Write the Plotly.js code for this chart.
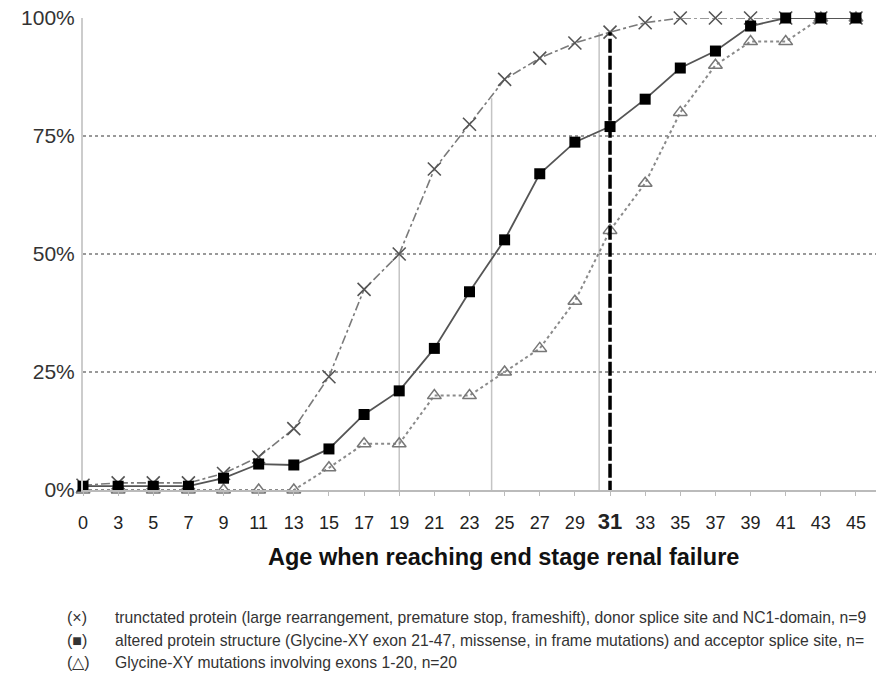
<!DOCTYPE html>
<html>
<head>
<meta charset="utf-8">
<script src="https://cdn.plot.ly/plotly-3.0.1.min.js"></script>
<style>html,body{margin:0;padding:0;background:#fff;}#chart{width:876px;height:677px;}</style>
</head>
<body>
<div id="chart"></div>
<script>
// Ages (category axis)
const ages = ['0','3','5','7','9','11','13','15','17','19','21','23','25','27','29','31','33','35','37','39','41','43','45'];
// Cumulative % reaching ESRF
const truncated = [1,1.5,1.5,1.5,3.5,7,13,24,42.5,50,68,77.5,87,91.5,94.7,97,99,100,100,100,100,100,100];
const altered   = [0.8,0.8,0.8,0.8,2.5,5.5,5.3,8.7,16,21,30,42,53,67,73.7,77,82.8,89.4,93,98.3,100,100,100];
const glycine   = [0,0,0,0,0,0,0,4.7,9.8,9.8,20,20,25,30,40,55,65,80,90,95,95,100,100];
// Tick labels
const yTickVals = [0,25,50,75,100];
const yTickText = ['0%','25%','50%','75%','100%'];
const xTickText = ages.map(a => a === '31' ? '<span style="font-size:22px"><b>31</b></span>' : a);
const xTitle = 'Age when reaching end stage renal failure';
// Reference lines (category index position, top %)
const refLineX = [9, 11.63, 14.69];
const refLineTop = [50, 83, 97];
const markLineX = 15;
const markLineTop = 97;
// Legend texts
const legendSymbols = ['(×)', '(■)', '(△)'];
const legendTexts = [
  'trunctated protein (large rearrangement, premature stop, frameshift), donor splice site and NC1-domain, n=9',
  'altered protein structure (Glycine-XY exon 21-47, missense, in frame mutations) and acceptor splice site, n=',
  'Glycine-XY mutations involving exons 1-20, n=20'
];

const traces = [
  {x: ages, y: glycine, type:'scatter', mode:'lines+markers', cliponaxis:false,
   line:{color:'#8a8a8a', width:2, dash:'dot'},
   marker:{symbol:'triangle-up-open', size:12, color:'#777', line:{width:1.5, color:'#777'}}},
  {x: ages, y: truncated, type:'scatter', mode:'lines+markers', cliponaxis:false,
   line:{color:'#7a7a7a', width:1.6, dash:'dashdot'},
   marker:{symbol:'x-thin-open', size:13, color:'#555', line:{width:1.6, color:'#555'}}},
  {x: ages, y: altered, type:'scatter', mode:'lines+markers', cliponaxis:false,
   line:{color:'#555', width:1.8},
   marker:{symbol:'square', size:11, color:'#000'}}
];

const shapes = refLineX.map((xv,i) => ({type:'line', xref:'x', yref:'y', x0:xv, x1:xv, y0:0, y1:refLineTop[i],
  line:{color:'#c4c4c4', width:1.5}, layer:'below'}));
shapes.push({type:'line', xref:'x', yref:'y', x0:markLineX, x1:markLineX, y0:-1, y1:markLineTop,
  line:{color:'#000', width:3.5, dash:'14px,3px'}});

const annotations = [{xref:'paper', yref:'paper', x:0.53, y:-0.142, xanchor:'center', yanchor:'middle',
  text:'<b>'+xTitle+'</b>', showarrow:false, font:{family:'Arial, Liberation Sans, sans-serif', size:23.5, color:'#111'}}];
const rowY = [-0.271, -0.318, -0.365];
legendSymbols.forEach((s,i) => {
  annotations.push({xref:'paper', yref:'paper', x:-0.023, y:rowY[i], xanchor:'left', yanchor:'middle',
    text:s, showarrow:false, font:{family:'Arial, Liberation Sans, sans-serif', size:16, color:'#333'}});
  annotations.push({xref:'paper', yref:'paper', x:0.038, y:rowY[i], xanchor:'left', yanchor:'middle',
    text:legendTexts[i], showarrow:false, font:{family:'Arial, Liberation Sans, sans-serif', size:15.7, color:'#333'}});
});

const layout = {
  width:876, height:677,
  margin:{l:83, r:0, t:18, b:187},
  paper_bgcolor:'#fff', plot_bgcolor:'#fff',
  showlegend:false,
  font:{family:'Arial, Liberation Sans, sans-serif', color:'#222'},
  xaxis:{type:'category', range:[0,22.57], tickmode:'array', tickvals:ages, ticktext:xTickText,
    showgrid:false, zeroline:false, showline:true, linecolor:'#bbb', linewidth:1.5,
    ticks:'outside', ticklen:4, tickcolor:'#bbb', tickfont:{size:18, color:'#222'},
    ticklabelstandoff:12},
  yaxis:{range:[0,100], tickmode:'array', tickvals:yTickVals, ticktext:yTickText,
    showgrid:true, gridcolor:'#999', gridwidth:2, griddash:'dot', zeroline:false,
    showline:true, linecolor:'#ccc', linewidth:2, ticks:'', ticklabelstandoff:2,
    tickfont:{size:21, color:'#333'}},
  shapes:shapes,
  annotations:annotations
};
Plotly.newPlot('chart', traces, layout, {displayModeBar:false, staticPlot:true});
</script>
</body>
</html>
